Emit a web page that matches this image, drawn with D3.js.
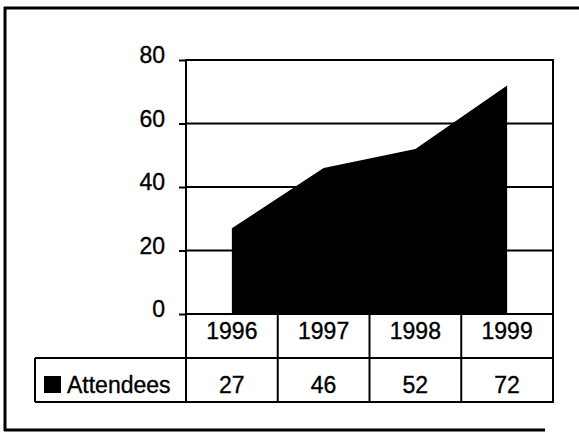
<!DOCTYPE html>
<html>
<head>
<meta charset="utf-8">
<script src="https://cdn.jsdelivr.net/npm/d3@7"></script>
<style>
  html, body { margin: 0; padding: 0; background: #fff; }
  svg { display: block; }
  text { font-family: "Liberation Sans", Arial, Helvetica, sans-serif; fill: #000; stroke: #000; stroke-width: 0.35px; }
</style>
</head>
<body>
<svg id="chart" width="579" height="433"></svg>
<script>
// Data
const years = ["1996", "1997", "1998", "1999"];
const attendees = [27, 46, 52, 72];
const seriesName = "Attendees";
const yTicks = [0, 20, 40, 60, 80];

const svg = d3.select("#chart");
const W = 579, H = 433;

// Plot geometry
const plot = { left: 186, right: 553, top: 60, bottom: 314 };
const rowH = 44;           // data-table row height
const legendLeft = 35;     // left edge of the legend cell
const fontSize = 23;

const x = d3.scaleBand().domain(years).range([plot.left, plot.right]).paddingInner(0).paddingOuter(0);
const y = d3.scaleLinear().domain([0, 80]).range([plot.bottom, plot.top]);

svg.append("rect").attr("width", W).attr("height", H).attr("fill", "#fff");

// Outer frame (open on the right)
const frame = svg.append("g").attr("stroke", "#000").attr("stroke-width", 3).attr("fill", "none");
frame.append("line").attr("x1", 4).attr("x2", 579).attr("y1", 8).attr("y2", 8);
frame.append("line").attr("x1", 5).attr("x2", 5).attr("y1", 7).attr("y2", 431);
frame.append("line").attr("x1", 4).attr("x2", 545).attr("y1", 430).attr("y2", 430);

// Area series
const area = d3.area()
  .x((d, i) => x(years[i]) + x.bandwidth() / 2)
  .y0(y(0))
  .y1(d => y(d))
  .curve(d3.curveLinear);

svg.append("path")
  .datum(attendees)
  .attr("d", area)
  .attr("fill", "#000");

// Horizontal gridlines
const grid = svg.append("g").attr("stroke", "#000").attr("stroke-width", 2);
yTicks.forEach(t => {
  grid.append("line")
    .attr("x1", plot.left).attr("x2", plot.right)
    .attr("y1", y(t)).attr("y2", y(t));
});

// Y axis with outward ticks
const yAxis = d3.axisLeft(y).tickValues(yTicks).tickSize(7).tickPadding(14).tickFormat(d3.format("d"));
const gy = svg.append("g").attr("transform", `translate(${plot.left},0)`).call(yAxis);
gy.select(".domain").remove();
gy.selectAll(".tick line").attr("stroke", "#000").attr("stroke-width", 2);
gy.selectAll(".tick text")
  .attr("dy", "0.12em")
  .attr("fill", "#000")
  .style("font-size", fontSize + "px")
  .attr("font-family", "Liberation Sans, Arial, sans-serif");

// Plot frame: left and right edges, continuing through the table
const pf = svg.append("g").attr("stroke", "#000").attr("stroke-width", 2);
pf.append("line").attr("x1", plot.left).attr("x2", plot.left).attr("y1", plot.top - 1).attr("y2", plot.bottom + 2 * rowH);
pf.append("line").attr("x1", plot.right).attr("x2", plot.right).attr("y1", plot.top - 1).attr("y2", plot.bottom + 2 * rowH + 1);

// Data table
const tbl = svg.append("g");
const row1Top = plot.bottom, row2Top = plot.bottom + rowH, tblBottom = plot.bottom + 2 * rowH;

const tl = tbl.append("g").attr("stroke", "#000").attr("stroke-width", 2);
tl.append("line").attr("x1", legendLeft).attr("x2", plot.right).attr("y1", row2Top).attr("y2", row2Top);
tl.append("line").attr("x1", legendLeft).attr("x2", plot.right).attr("y1", tblBottom).attr("y2", tblBottom);
tl.append("line").attr("x1", legendLeft).attr("x2", legendLeft).attr("y1", row2Top).attr("y2", tblBottom);
years.forEach((yr, i) => {
  if (i === 0) return;
  tl.append("line")
    .attr("x1", x(yr)).attr("x2", x(yr))
    .attr("y1", row1Top).attr("y2", tblBottom);
});

// Category labels
tbl.selectAll("text.year")
  .data(years)
  .join("text")
  .attr("class", "year")
  .attr("x", d => x(d) + x.bandwidth() / 2)
  .attr("y", row1Top + 25)
  .attr("text-anchor", "middle")
  .style("font-size", fontSize + "px")
  .text(d => d);

// Values
tbl.selectAll("text.val")
  .data(attendees)
  .join("text")
  .attr("class", "val")
  .attr("x", (d, i) => x(years[i]) + x.bandwidth() / 2)
  .attr("y", row2Top + 35)
  .attr("text-anchor", "middle")
  .style("font-size", fontSize + "px")
  .text(d => d);

// Legend key and series name
tbl.append("rect")
  .attr("x", 44).attr("y", row2Top + 18)
  .attr("width", 17).attr("height", 17)
  .attr("fill", "#000");
tbl.append("text")
  .attr("x", 67).attr("y", row2Top + 35)
  .style("font-size", fontSize + "px")
  .text(seriesName);
</script>
</body>
</html>
